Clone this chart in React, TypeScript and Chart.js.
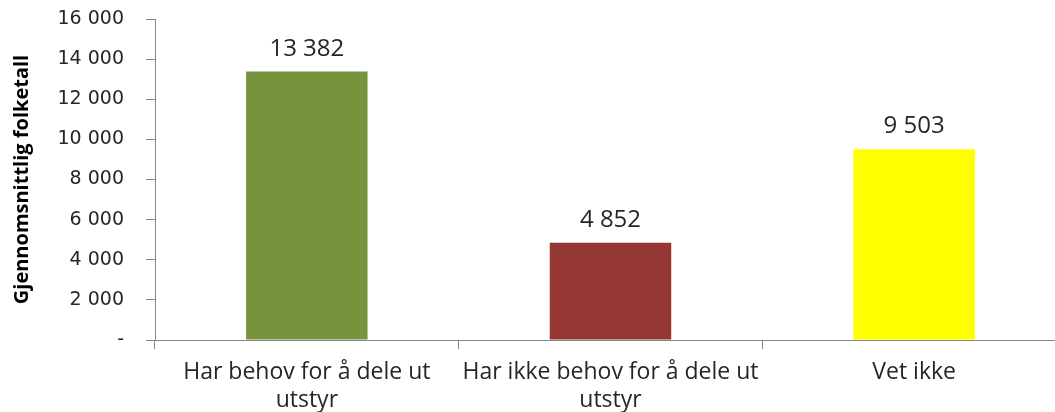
import React, { useEffect, useRef } from "react";
import { Chart, registerables } from "chart.js";

Chart.register(...registerables);

const categories: string[][] = [
  ["Har behov for å dele ut", "utstyr"],
  ["Har ikke behov for å dele ut", "utstyr"],
  ["Vet ikke"],
];
const values: number[] = [13382, 4852, 9503];
const barColors: string[] = ["#77933C", "#953735", "#FFFF00"];
const yTitle = "Gjennomsnittlig folketall";
const yMax = 16000;
const yStep = 2000;

const fmt = (v: number) =>
  v === 0 ? "-" : Math.round(v).toString().replace(/\B(?=(\d{3})+(?!\d))/g, " ");

const FONT = "'Open Sans', 'Liberation Sans', sans-serif";
const TICK_FONT = "'DejaVu Sans', 'Open Sans', sans-serif";

const dataLabels = {
  id: "dataLabels",
  afterDatasetsDraw(chart: any) {
    const ctx = chart.ctx;
    const meta = chart.getDatasetMeta(0);
    ctx.save();
    ctx.font = `24px ${FONT}`;
    ctx.fillStyle = "#262626";
    ctx.textAlign = "center";
    ctx.textBaseline = "alphabetic";
    meta.data.forEach((bar: any, i: number) => {
      ctx.fillText(fmt(values[i]), bar.x, bar.y - 16);
    });
    ctx.restore();
  },
};

export default function App() {
  const ref = useRef<HTMLCanvasElement | null>(null);
  useEffect(() => {
    if (!ref.current) return;
    const chart = new Chart(ref.current, {
      type: "bar",
      data: {
        labels: categories,
        datasets: [
          {
            data: values,
            backgroundColor: barColors,
            borderWidth: 0,
            barPercentage: 0.4,
            categoryPercentage: 1,
          },
        ],
      },
      plugins: [dataLabels],
      options: {
        animation: false,
        responsive: false,
        maintainAspectRatio: false,
        devicePixelRatio: 1,
        layout: { padding: { top: 19, left: 0, right: 0, bottom: 0 } },
        plugins: { legend: { display: false }, tooltip: { enabled: false } },
        scales: {
          x: {
            offset: true,
            grid: {
              offset: true,
              drawOnChartArea: false,
              drawTicks: true,
              tickLength: 9,
              color: "#868686",
              lineWidth: 1,
            },
            border: { color: "#868686", width: 1 },
            ticks: {
              padding: 10,
              color: "#262626",
              maxRotation: 0,
              autoSkip: false,
              font: { family: FONT, size: 23, lineHeight: 1.2 },
            },
            afterFit: (s: any) => {
              s.height = 72;
              s.paddingLeft = 0;
              s.paddingRight = 0;
            },
          },
          y: {
            min: 0,
            max: yMax,
            ticks: {
              stepSize: yStep,
              padding: 22,
              color: "#262626",
              font: { family: TICK_FONT, size: 19 },
              callback: (v: any) => fmt(Number(v)),
            },
            grid: {
              drawOnChartArea: false,
              drawTicks: true,
              tickLength: 9,
              color: "#868686",
            },
            border: { color: "#868686", width: 1 },
            title: {
              display: true,
              text: yTitle,
              color: "#000000",
              font: { family: FONT, size: 20, weight: "bold" },
              padding: { top: 10, bottom: 0 },
            },
            afterFit: (s: any) => {
              s.width = 155;
              s.paddingTop = 0;
              s.paddingBottom = 0;
            },
          },
        },
      },
    });
    return () => chart.destroy();
  }, []);
  return (
    <div
      style={{
        position: "fixed",
        left: 0,
        top: 0,
        width: 1055,
        height: 412,
        overflow: "hidden",
        background: "#fff",
      }}
    >
      <canvas ref={ref} width={1066} height={412} style={{ width: 1066, height: 412, display: "block" }} />
    </div>
  );
}
